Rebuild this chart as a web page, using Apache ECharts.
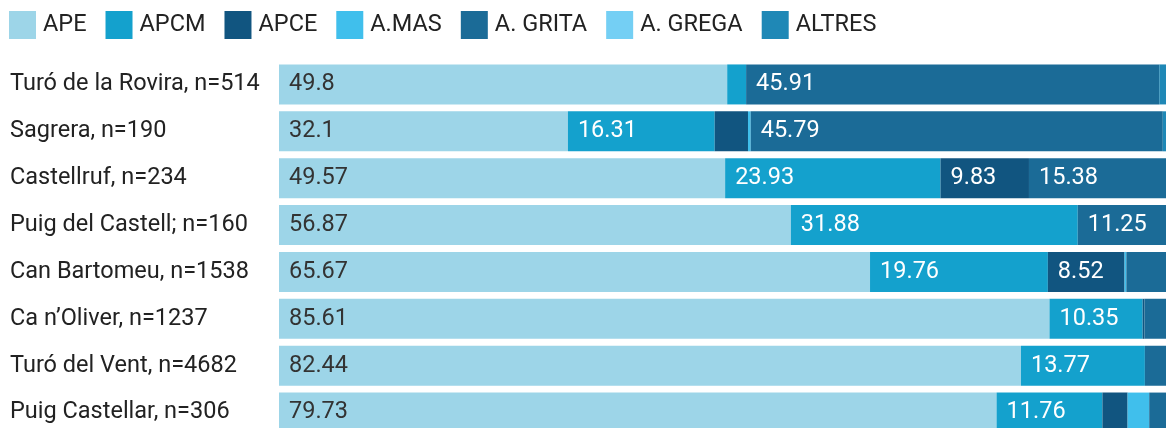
<!DOCTYPE html>
<html>
<head>
<meta charset="utf-8">
<script src="https://cdn.jsdelivr.net/npm/echarts@6/dist/echarts.min.js"></script>
<style>
  html, body { margin: 0; padding: 0; background: #fff; }
  #chart { width: 1166px; height: 428px; }
</style>
</head>
<body>
<div id="chart"></div>
<script>
// Sites, top to bottom
const categories = [
  'Turó de la Rovira, n=514',
  'Sagrera, n=190',
  'Castellruf, n=234',
  'Puig del Castell; n=160',
  'Can Bartomeu, n=1538',
  "Ca n’Oliver, n=1237",
  'Turó del Vent, n=4682',
  'Puig Castellar, n=306'
];

// Percentage of each amphora group per site
const APE     = [49.8, 32.1, 49.57, 56.87, 65.67, 85.61, 82.44, 79.73];
const APCM    = [2.1, 16.31, 23.93, 31.88, 19.76, 10.35, 13.77, 11.76];
const APCE    = [0, 3.7, 9.83, 0, 8.52, 0.2, 0, 2.8];
const A_MAS   = [0, 0.3, 0, 0, 0.2, 0, 0, 2.4];
const A_GRITA = [45.91, 45.79, 15.38, 11.25, 4.6, 3.4, 3.0, 2.6];
const A_GREGA = [0, 0, 0, 0, 0, 0, 0, 0];
const ALTRES  = [2.19, 1.8, 1.29, 0, 1.25, 0.44, 0.79, 0.71];

const seriesNames = ['APE', 'APCM', 'APCE', 'A.MAS', 'A. GRITA', 'A. GREGA', 'ALTRES'];
const seriesData  = [APE, APCM, APCE, A_MAS, A_GRITA, A_GREGA, ALTRES];
const colors = ['#9dd5e8', '#14a1cd', '#115580', '#40bfec', '#1b6b97', '#74cff4', '#1f88b6'];
const labelColors = ['#333333', '#ffffff', '#ffffff', '#ffffff', '#ffffff', '#ffffff', '#ffffff'];

const FONT = 'Roboto';

const chart = echarts.init(document.getElementById('chart'));

chart.setOption({
  animation: false,
  color: colors,
  textStyle: { fontFamily: FONT },
  legend: {
    left: 9,
    top: 11,
    padding: 0,
    icon: 'rect',
    itemWidth: 27,
    itemHeight: 28,
    itemGap: 19,
    textStyle: { fontFamily: FONT, fontSize: 23.5, color: '#222', padding: [0, 0, 0, 2] },
    data: seriesNames
  },
  grid: {
    left: 279,
    top: 61,
    width: 900,
    height: 375,
    containLabel: false,
    outerBoundsMode: 'none'
  },
  xAxis: {
    type: 'value',
    min: 0,
    max: 100,
    show: false
  },
  yAxis: {
    type: 'category',
    inverse: true,
    data: categories,
    axisLine: { show: false },
    axisTick: { show: false },
    axisLabel: {
      align: 'left',
      margin: 269,
      fontFamily: FONT,
      fontSize: 23.5,
      color: '#222'
    }
  },
  series: seriesNames.map((name, i) => ({
    name: name,
    type: 'bar',
    stack: 'total',
    barWidth: 40,
    data: seriesData[i],
    itemStyle: { color: colors[i] },
    label: {
      show: true,
      position: 'insideLeft',
      distance: 10,
      fontFamily: FONT,
      fontSize: 23.5,
      color: labelColors[i],
      formatter: p => (p.value >= 5 ? String(p.value) : '')
    }
  }))
});
</script>
</body>
</html>
